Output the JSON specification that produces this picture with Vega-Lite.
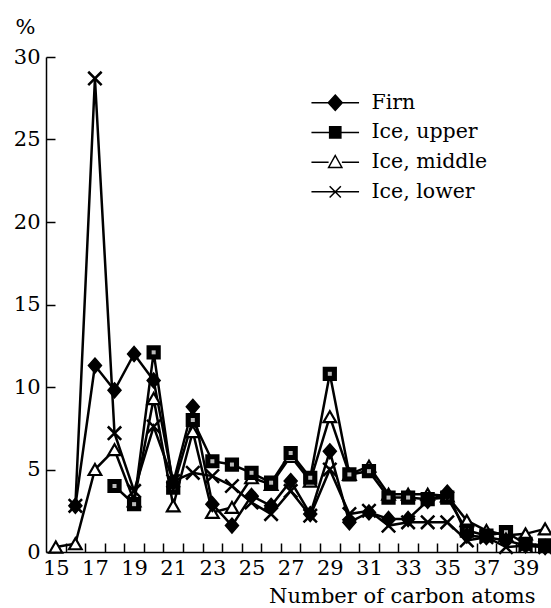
{
  "$schema": "https://vega.github.io/schema/vega-lite/v6.json",
  "width": 505,
  "height": 495,
  "autosize": {"type": "none"},
  "padding": {"left": 46, "top": 57, "right": 0, "bottom": 56},
  "background": "white",
  "config": {
    "view": {"stroke": null},
    "font": "DejaVu Serif",
    "axis": {"grid": false, "domainColor": "black", "tickColor": "black", "domainWidth": 1.5, "tickWidth": 1.5, "labelColor": "black", "titleColor": "black", "labelFont": "DejaVu Serif", "titleFont": "DejaVu Serif", "titleFontWeight": "normal"},
    "legend": {"labelFont": "DejaVu Serif"}
  },
  "data": {
    "values": [
      {"c": 16, "s": "Firn", "v": 2.8}, {"c": 17, "s": "Firn", "v": 11.3}, {"c": 18, "s": "Firn", "v": 9.8}, {"c": 19, "s": "Firn", "v": 12.0}, {"c": 20, "s": "Firn", "v": 10.4},
      {"c": 21, "s": "Firn", "v": 4.2}, {"c": 22, "s": "Firn", "v": 8.8}, {"c": 23, "s": "Firn", "v": 2.9}, {"c": 24, "s": "Firn", "v": 1.6}, {"c": 25, "s": "Firn", "v": 3.4},
      {"c": 26, "s": "Firn", "v": 2.8}, {"c": 27, "s": "Firn", "v": 4.3}, {"c": 28, "s": "Firn", "v": 2.3}, {"c": 29, "s": "Firn", "v": 6.1}, {"c": 30, "s": "Firn", "v": 1.8},
      {"c": 31, "s": "Firn", "v": 2.4}, {"c": 32, "s": "Firn", "v": 2.0}, {"c": 33, "s": "Firn", "v": 2.0}, {"c": 34, "s": "Firn", "v": 3.1}, {"c": 35, "s": "Firn", "v": 3.6},
      {"c": 36, "s": "Firn", "v": 1.0}, {"c": 37, "s": "Firn", "v": 0.9}, {"c": 38, "s": "Firn", "v": 0.7}, {"c": 39, "s": "Firn", "v": 0.4}, {"c": 40, "s": "Firn", "v": 0.3},

      {"c": 18, "s": "Ice, upper", "v": 4.0}, {"c": 19, "s": "Ice, upper", "v": 2.9}, {"c": 20, "s": "Ice, upper", "v": 12.1}, {"c": 21, "s": "Ice, upper", "v": 3.9}, {"c": 22, "s": "Ice, upper", "v": 8.0},
      {"c": 23, "s": "Ice, upper", "v": 5.5}, {"c": 24, "s": "Ice, upper", "v": 5.3}, {"c": 25, "s": "Ice, upper", "v": 4.8}, {"c": 26, "s": "Ice, upper", "v": 4.2}, {"c": 27, "s": "Ice, upper", "v": 6.0},
      {"c": 28, "s": "Ice, upper", "v": 4.5}, {"c": 29, "s": "Ice, upper", "v": 10.8}, {"c": 30, "s": "Ice, upper", "v": 4.7}, {"c": 31, "s": "Ice, upper", "v": 4.9}, {"c": 32, "s": "Ice, upper", "v": 3.3},
      {"c": 33, "s": "Ice, upper", "v": 3.3}, {"c": 34, "s": "Ice, upper", "v": 3.2}, {"c": 35, "s": "Ice, upper", "v": 3.3}, {"c": 36, "s": "Ice, upper", "v": 1.3}, {"c": 37, "s": "Ice, upper", "v": 1.0},
      {"c": 38, "s": "Ice, upper", "v": 1.2}, {"c": 39, "s": "Ice, upper", "v": 0.5}, {"c": 40, "s": "Ice, upper", "v": 0.4},

      {"c": 15, "s": "Ice, middle", "v": 0.3}, {"c": 16, "s": "Ice, middle", "v": 0.5}, {"c": 17, "s": "Ice, middle", "v": 5.0}, {"c": 18, "s": "Ice, middle", "v": 6.2}, {"c": 19, "s": "Ice, middle", "v": 3.1},
      {"c": 20, "s": "Ice, middle", "v": 9.3}, {"c": 21, "s": "Ice, middle", "v": 2.8}, {"c": 22, "s": "Ice, middle", "v": 7.3}, {"c": 23, "s": "Ice, middle", "v": 2.4}, {"c": 24, "s": "Ice, middle", "v": 2.7},
      {"c": 25, "s": "Ice, middle", "v": 4.5}, {"c": 26, "s": "Ice, middle", "v": 4.1}, {"c": 27, "s": "Ice, middle", "v": 5.8}, {"c": 28, "s": "Ice, middle", "v": 4.3}, {"c": 29, "s": "Ice, middle", "v": 8.2},
      {"c": 30, "s": "Ice, middle", "v": 4.7}, {"c": 31, "s": "Ice, middle", "v": 5.2}, {"c": 32, "s": "Ice, middle", "v": 3.5}, {"c": 33, "s": "Ice, middle", "v": 3.5}, {"c": 34, "s": "Ice, middle", "v": 3.5},
      {"c": 35, "s": "Ice, middle", "v": 3.4}, {"c": 36, "s": "Ice, middle", "v": 1.9}, {"c": 37, "s": "Ice, middle", "v": 1.3}, {"c": 38, "s": "Ice, middle", "v": 1.0}, {"c": 39, "s": "Ice, middle", "v": 1.1},
      {"c": 40, "s": "Ice, middle", "v": 1.4},

      {"c": 16, "s": "Ice, lower", "v": 2.8}, {"c": 17, "s": "Ice, lower", "v": 28.7}, {"c": 18, "s": "Ice, lower", "v": 7.2}, {"c": 19, "s": "Ice, lower", "v": 3.7}, {"c": 20, "s": "Ice, lower", "v": 7.6},
      {"c": 21, "s": "Ice, lower", "v": 4.3}, {"c": 22, "s": "Ice, lower", "v": 4.8}, {"c": 23, "s": "Ice, lower", "v": 4.6}, {"c": 24, "s": "Ice, lower", "v": 4.0}, {"c": 25, "s": "Ice, lower", "v": 3.0},
      {"c": 26, "s": "Ice, lower", "v": 2.3}, {"c": 27, "s": "Ice, lower", "v": 3.7}, {"c": 28, "s": "Ice, lower", "v": 2.2}, {"c": 29, "s": "Ice, lower", "v": 5.0}, {"c": 30, "s": "Ice, lower", "v": 2.3},
      {"c": 31, "s": "Ice, lower", "v": 2.5}, {"c": 32, "s": "Ice, lower", "v": 1.6}, {"c": 33, "s": "Ice, lower", "v": 1.8}, {"c": 34, "s": "Ice, lower", "v": 1.8}, {"c": 35, "s": "Ice, lower", "v": 1.8},
      {"c": 36, "s": "Ice, lower", "v": 0.7}, {"c": 37, "s": "Ice, lower", "v": 0.9}, {"c": 38, "s": "Ice, lower", "v": 0.3}, {"c": 39, "s": "Ice, lower", "v": 0.4}, {"c": 40, "s": "Ice, lower", "v": 0.3}
    ]
  },
  "encoding": {
    "x": {
      "field": "c", "type": "quantitative",
      "scale": {"domain": [14.5, 40.3], "nice": false, "zero": false},
      "axis": {
        "values": [15, 16, 17, 18, 19, 20, 21, 22, 23, 24, 25, 26, 27, 28, 29, 30, 31, 32, 33, 34, 35, 36, 37, 38, 39],
        "labelExpr": "datum.value % 2 == 1 ? datum.label : ''",
        "tickOffset": 9.79, "labelOffset": -9.79,
        "tickSize": -9, "labelPadding": 14, "labelFontSize": 21, "labelFlush": false, "labelOverlap": false,
        "title": "Number of carbon atoms", "titleFontSize": 21,
        "titleX": 489, "titleY": 50, "titleAlign": "right", "titleBaseline": "alphabetic", "titleAnchor": null
      }
    },
    "y": {
      "field": "v", "type": "quantitative",
      "scale": {"domain": [0, 30], "nice": false},
      "axis": {
        "values": [0, 5, 10, 15, 20, 25, 30],
        "tickSize": -9, "labelPadding": 15, "labelFontSize": 21,
        "title": "%", "titleFontSize": 21, "titleAngle": 0,
        "titleX": -21, "titleY": -24, "titleAlign": "center", "titleBaseline": "alphabetic", "titleAnchor": null
      }
    }
  },
  "layer": [
    {
      "mark": {"type": "line", "color": "black", "strokeWidth": 2.5},
      "encoding": {"detail": {"field": "s"}}
    },
    {
      "transform": [{"filter": "datum.c < 0"}],
      "mark": {"type": "point", "filled": true, "stroke": "black", "strokeWidth": 2.5, "size": 196, "opacity": 1},
      "encoding": {
        "shape": {
          "field": "s", "type": "nominal",
          "scale": {
            "domain": ["Firn", "Ice, upper", "Ice, middle", "Ice, lower"],
            "range": [
              "M-3.4,0H-0.9M0.9,0H3.4M0,-1.1L1,0L0,1.1L-1,0Z",
              "M-3.4,0H-0.8M0.8,0H3.4M-0.8,-0.8H0.8V0.8H-0.8Z",
              "M-3.4,0H-0.95M0.95,0H3.4M0,-0.95L0.95,0.75H-0.95Z",
              "M-3.4,0H3.4M-0.8,-0.8L0.8,0.8M-0.8,0.8L0.8,-0.8"
            ]
          },
          "legend": {
            "orient": "none", "legendX": 279, "legendY": 35.5, "title": null, "padding": 0,
            "labelFontSize": 20.5, "labelColor": "black", "labelFont": "DejaVu Serif",
            "symbolSize": 196,
            "symbolOffset": 0, "labelOffset": 26, "rowPadding": 8.7,
            "encode": {
              "symbols": {
                "stroke": {"value": "black"},
                "strokeWidth": {"value": 2.5},
                "opacity": {"value": 1}
              }
            }
          }
        },
        "fill": {
          "field": "s", "type": "nominal",
          "scale": {
            "domain": ["Firn", "Ice, upper", "Ice, middle", "Ice, lower"],
            "range": ["black", "black", "white", "transparent"]
          },
          "legend": {
            "orient": "none", "legendX": 279, "legendY": 35.5, "title": null, "padding": 0,
            "labelFontSize": 20.5, "labelColor": "black", "labelFont": "DejaVu Serif",
            "symbolSize": 196,
            "symbolOffset": 0, "labelOffset": 26, "rowPadding": 8.7,
            "encode": {
              "symbols": {
                "stroke": {"value": "black"},
                "strokeWidth": {"value": 2.5},
                "opacity": {"value": 1}
              }
            }
          }
        }
      }
    },
    {
      "transform": [{"filter": "datum.s === 'Ice, middle'"}],
      "mark": {"type": "point", "shape": "triangle-up", "filled": true, "fill": "white", "stroke": "black", "strokeWidth": 2.2, "size": 160, "opacity": 1}
    },
    {
      "transform": [{"filter": "datum.s === 'Ice, lower'"}],
      "mark": {"type": "point", "shape": "M-1,-1L1,1M-1,1L1,-1", "filled": false, "stroke": "black", "strokeWidth": 2.5, "size": 180, "opacity": 1}
    },
    {
      "transform": [{"filter": "datum.s === 'Ice, upper'"}],
      "mark": {"type": "point", "shape": "square", "filled": true, "fill": "black", "stroke": "black", "strokeWidth": 2, "size": 150, "opacity": 1}
    },
    {
      "transform": [{"filter": "datum.s === 'Ice, upper'"}],
      "mark": {"type": "square", "color": "#bbbbbb", "size": 16, "opacity": 1}
    },
    {
      "transform": [{"filter": "datum.s === 'Firn'"}],
      "mark": {"type": "point", "shape": "M0,-1.15L1,0L0,1.15L-1,0Z", "filled": true, "fill": "black", "stroke": "black", "strokeWidth": 1.5, "size": 170, "opacity": 1}
    }
  ]
}
